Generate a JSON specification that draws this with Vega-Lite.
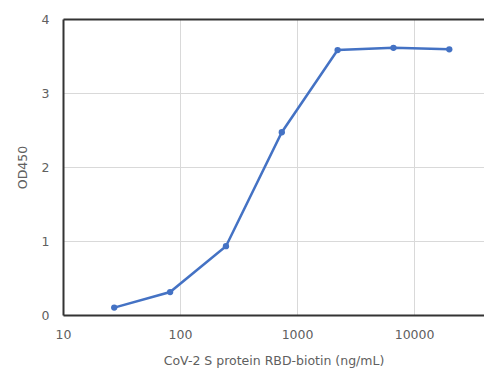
{
  "$schema": "https://vega.github.io/schema/vega-lite/v6.json",
  "width": 421,
  "height": 296,
  "autosize": {"type": "none"},
  "padding": {"left": 63, "top": 19, "right": 0, "bottom": 57},
  "background": "white",
  "config": {
    "view": {"stroke": null},
    "font": "DejaVu Sans"
  },
  "data": {
    "values": [
      {"conc": 27.4, "od": 0.1},
      {"conc": 82.3, "od": 0.31},
      {"conc": 247, "od": 0.93},
      {"conc": 741, "od": 2.47},
      {"conc": 2222, "od": 3.58},
      {"conc": 6667, "od": 3.61},
      {"conc": 20000, "od": 3.59}
    ]
  },
  "encoding": {
    "x": {
      "field": "conc",
      "type": "quantitative",
      "scale": {"type": "log", "domain": [10, 39600], "nice": false},
      "axis": {
        "values": [10, 100, 1000, 10000],
        "format": "d",
        "labelFlush": false,
        "title": "CoV-2 S protein RBD-biotin (ng/mL)",
        "titleFont": "DejaVu Sans",
        "titleFontSize": 12.5,
        "titleFontWeight": "normal",
        "titleColor": "#606060",
        "titlePadding": 14,
        "labelFontSize": 12.5,
        "labelColor": "#606060",
        "labelPadding": 13,
        "ticks": false,
        "domainColor": "#333333",
        "domainWidth": 2,
        "gridColor": {"condition": {"test": "datum.value === 10", "value": "transparent"}, "value": "#d9d9d9"},
        "gridWidth": 1
      }
    },
    "y": {
      "field": "od",
      "type": "quantitative",
      "scale": {"domain": [0, 4], "nice": false},
      "axis": {
        "values": [0, 1, 2, 3, 4],
        "labelFlush": false,
        "title": "OD450",
        "titleFont": "DejaVu Sans",
        "titleFontSize": 12.5,
        "titleFontWeight": "normal",
        "titleColor": "#606060",
        "titlePadding": 12,
        "labelFontSize": 12.5,
        "labelColor": "#606060",
        "labelPadding": 14,
        "ticks": false,
        "domainColor": "#333333",
        "domainWidth": 2,
        "gridColor": {"condition": {"test": "datum.value === 4", "value": "#333333"}, "value": "#d9d9d9"},
        "gridWidth": {"condition": {"test": "datum.value === 4", "value": 2}, "value": 1}
      }
    }
  },
  "layer": [
    {"mark": {"type": "line", "color": "#4472C4", "strokeWidth": 2.5}},
    {"mark": {"type": "point", "filled": true, "color": "#4472C4", "size": 40, "opacity": 1}}
  ]
}
